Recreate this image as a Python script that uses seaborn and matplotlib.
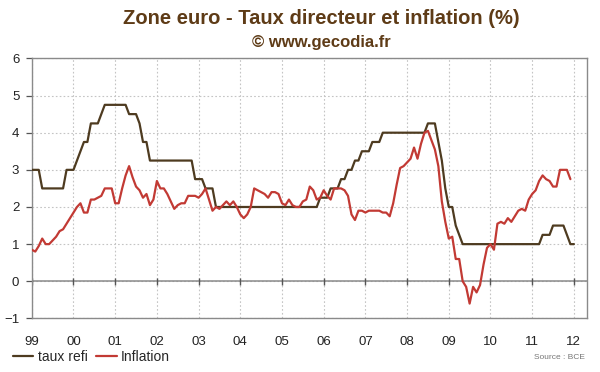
import numpy as np
import pandas as pd
import matplotlib
matplotlib.use("Agg")
import matplotlib.pyplot as plt
import seaborn as sns

# Taux refi BCE, mensuel, janv. 1999 -> janv. 2012
taux_refi = [
    3.0, 3.0, 3.0, 2.5, 2.5, 2.5, 2.5, 2.5, 2.5, 2.5, 3.0, 3.0,            # 1999
    3.0, 3.25, 3.5, 3.75, 3.75, 4.25, 4.25, 4.25, 4.5, 4.75, 4.75, 4.75,   # 2000
    4.75, 4.75, 4.75, 4.75, 4.5, 4.5, 4.5, 4.25, 3.75, 3.75, 3.25, 3.25,   # 2001
    3.25, 3.25, 3.25, 3.25, 3.25, 3.25, 3.25, 3.25, 3.25, 3.25, 3.25, 2.75,  # 2002
    2.75, 2.75, 2.5, 2.5, 2.5, 2.0, 2.0, 2.0, 2.0, 2.0, 2.0, 2.0,          # 2003
    2.0, 2.0, 2.0, 2.0, 2.0, 2.0, 2.0, 2.0, 2.0, 2.0, 2.0, 2.0,            # 2004
    2.0, 2.0, 2.0, 2.0, 2.0, 2.0, 2.0, 2.0, 2.0, 2.0, 2.0, 2.25,           # 2005
    2.25, 2.25, 2.5, 2.5, 2.5, 2.75, 2.75, 3.0, 3.0, 3.25, 3.25, 3.5,      # 2006
    3.5, 3.5, 3.75, 3.75, 3.75, 4.0, 4.0, 4.0, 4.0, 4.0, 4.0, 4.0,         # 2007
    4.0, 4.0, 4.0, 4.0, 4.0, 4.0, 4.25, 4.25, 4.25, 3.75, 3.25, 2.5,       # 2008
    2.0, 2.0, 1.5, 1.25, 1.0, 1.0, 1.0, 1.0, 1.0, 1.0, 1.0, 1.0,           # 2009
    1.0, 1.0, 1.0, 1.0, 1.0, 1.0, 1.0, 1.0, 1.0, 1.0, 1.0, 1.0,            # 2010
    1.0, 1.0, 1.0, 1.25, 1.25, 1.25, 1.5, 1.5, 1.5, 1.5, 1.25, 1.0,        # 2011
    1.0,                                                                   # 2012
]

# Inflation zone euro (%), mensuel, janv. 1999 -> déc. 2011
inflation = [
    0.85, 0.8, 0.95, 1.15, 1.0, 1.0, 1.1, 1.2, 1.35, 1.4, 1.55, 1.7,      # 1999
    1.85, 2.0, 2.1, 1.85, 1.85, 2.2, 2.2, 2.25, 2.3, 2.5, 2.5, 2.5,       # 2000
    2.1, 2.1, 2.5, 2.85, 3.1, 2.8, 2.55, 2.45, 2.25, 2.35, 2.05, 2.2,     # 2001
    2.7, 2.5, 2.5, 2.35, 2.15, 1.95, 2.05, 2.1, 2.1, 2.3, 2.3, 2.3,       # 2002
    2.25, 2.35, 2.5, 2.2, 1.9, 2.0, 1.95, 2.05, 2.15, 2.05, 2.15, 2.0,    # 2003
    1.8, 1.7, 1.8, 2.0, 2.5, 2.45, 2.4, 2.35, 2.25, 2.4, 2.4, 2.35,       # 2004
    2.1, 2.05, 2.2, 2.05, 2.0, 2.0, 2.15, 2.2, 2.55, 2.45, 2.2, 2.25,     # 2005
    2.45, 2.3, 2.2, 2.5, 2.5, 2.5, 2.45, 2.3, 1.8, 1.65, 1.9, 1.9,        # 2006
    1.85, 1.9, 1.9, 1.9, 1.9, 1.85, 1.85, 1.75, 2.1, 2.6, 3.05, 3.1,      # 2007
    3.2, 3.3, 3.6, 3.3, 3.7, 4.0, 4.05, 3.8, 3.55, 3.1, 2.15, 1.6,        # 2008
    1.15, 1.2, 0.6, 0.6, 0.0, -0.15, -0.6, -0.15, -0.3, -0.1, 0.45, 0.9,  # 2009
    1.0, 0.85, 1.55, 1.6, 1.55, 1.7, 1.6, 1.75, 1.9, 1.95, 1.9, 2.2,      # 2010
    2.35, 2.45, 2.7, 2.85, 2.75, 2.7, 2.55, 2.55, 3.0, 3.0, 3.0, 2.75,    # 2011
]

annees_ticks = list(range(1999, 2013))
labels_ticks = ["99", "00", "01", "02", "03", "04", "05", "06",
                "07", "08", "09", "10", "11", "12"]

df_refi = pd.DataFrame({"date": 1999 + np.arange(len(taux_refi)) / 12,
                        "valeur": taux_refi})
df_infl = pd.DataFrame({"date": 1999 + np.arange(len(inflation)) / 12,
                        "valeur": inflation})

sns.set_theme(style="white")
plt.rcParams["font.family"] = ["Liberation Sans", "DejaVu Sans"]

brun = "#4e3b20"
rouge = "#c23a34"
gris = "#8a8a8a"

fig = plt.figure(figsize=(6, 3.72), dpi=100)
ax = fig.add_axes([0.053, 0.144, 0.925, 0.699])

# grille pointillée
for yv in range(-1, 7):
    ax.axhline(yv, color="#c4c4c4", lw=0.8, ls=(0, (1.5, 2)), zorder=0)
for xv in annees_ticks:
    ax.axvline(xv, color="#c4c4c4", lw=0.8, ls=(0, (1.5, 2)), zorder=0)

# axe des abscisses à zéro
ax.axhline(0, color=gris, lw=1.1, zorder=1)
ax.vlines(annees_ticks, -0.09, 0.09, color="#555555", lw=1.0, zorder=1)

sns.lineplot(data=df_refi, x="date", y="valeur", ax=ax, color=brun,
             lw=1.6, label="taux refi", zorder=3)
sns.lineplot(data=df_infl, x="date", y="valeur", ax=ax, color=rouge,
             lw=1.6, label="Inflation", zorder=4)

ax.set_xlim(1999, 2012.31)
ax.set_ylim(-1, 6)
ax.set_yticks(range(-1, 7))
ax.set_xticks(annees_ticks)
ax.set_xticklabels(labels_ticks)
ax.set_xlabel("")
ax.set_ylabel("")
ax.tick_params(axis="x", length=0, pad=13, labelsize=9.5, colors="#222222")
ax.tick_params(axis="y", left=True, length=4, width=0.9, color="#555555",
               pad=5, labelsize=9.5, colors="#222222")
for sp in ax.spines.values():
    sp.set_color(gris)
    sp.set_linewidth(1.0)

handles, labels = ax.get_legend_handles_labels()
ax.get_legend().remove()
fig.legend(handles, labels, loc="lower left", bbox_to_anchor=(0.0, -0.012),
           ncol=2, frameon=False, fontsize=10, handlelength=1.5,
           handletextpad=0.3, columnspacing=0.6)

fig.text(0.535, 0.95, "Zone euro - Taux directeur et inflation (%)",
         ha="center", va="center", fontsize=14.5, fontweight="bold",
         color="#5e3b16")
fig.text(0.535, 0.885, "\u00a9 www.gecodia.fr", ha="center", va="center",
         fontsize=12, fontweight="bold", color="#5e3b16")
fig.text(0.975, 0.04, "Source : BCE", ha="right", va="center",
         fontsize=6, color="#777777")

fig.savefig("out.png", dpi=100)
